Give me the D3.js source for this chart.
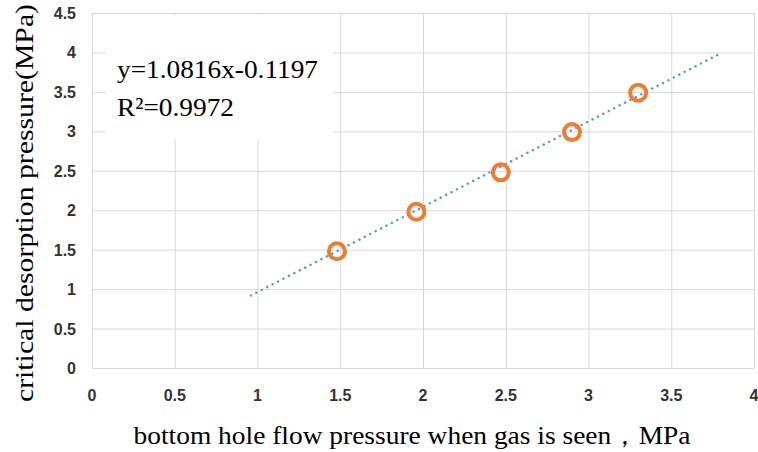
<!DOCTYPE html>
<html><head><meta charset="utf-8">
<script src="https://cdn.jsdelivr.net/npm/d3@7"></script>
<style>body{margin:0;background:#fff}</style>
</head><body>
<svg id="c" width="758" height="452"></svg>
<script>
const xValues = [1.48, 1.96, 2.47, 2.90, 3.30];
const yValues = [1.48, 1.98, 2.48, 2.99, 3.49];
const xTicks = [0, 0.5, 1, 1.5, 2, 2.5, 3, 3.5, 4];
const yTicks = [0, 0.5, 1, 1.5, 2, 2.5, 3, 3.5, 4, 4.5];
const slope = 1.0816, intercept = -0.1197;
const trendRange = [0.96, 3.79];
const eqText = "y=1.0816x-0.1197";
const r2Text = "R²=0.9972";
const xTitle = "bottom hole flow pressure when gas is seen，MPa";
const yTitle = "critical desorption pressure(MPa)";

const svg = d3.select("#c");
const x = d3.scaleLinear().domain([0, 4]).range([92, 754]);
const y = d3.scaleLinear().domain([0, 4.5]).range([368, 13]);

// grid
const grid = svg.append("g");
grid.selectAll(".vx").data(xTicks).join("line")
  .attr("x1", d => x(d) + 0.5).attr("x2", d => x(d) + 0.5)
  .attr("y1", y(4.5)).attr("y2", y(0))
  .attr("stroke", "#d9d9d9").attr("stroke-width", 1);
grid.selectAll(".hy").data(yTicks).join("line")
  .attr("x1", x(0)).attr("x2", x(4))
  .attr("y1", d => y(d) + 0.5).attr("y2", d => y(d) + 0.5)
  .attr("stroke", "#d9d9d9").attr("stroke-width", 1);

// white label box covering grid
svg.append("rect").attr("x", 106).attr("y", y(4.5) + 2)
  .attr("width", 227).attr("height", 124).attr("fill", "#fff");

// tick labels
const tickFont = "Liberation Sans, Arial, sans-serif";
svg.append("g").selectAll("text").data(xTicks).join("text")
  .attr("x", d => x(d)).attr("y", 401)
  .attr("text-anchor", "middle")
  .attr("font-family", tickFont)
  .attr("font-weight", "bold").attr("font-size", 16).attr("fill", "#333")
  .text(d => d);
svg.append("g").selectAll("text").data(yTicks).join("text")
  .attr("x", 76).attr("y", d => y(d) + 6)
  .attr("text-anchor", "end")
  .attr("font-family", tickFont)
  .attr("font-weight", "bold").attr("font-size", 16).attr("fill", "#333")
  .text(d => d);

// trend line
svg.append("line")
  .attr("x1", x(trendRange[0])).attr("y1", y(slope * trendRange[0] + intercept))
  .attr("x2", x(trendRange[1])).attr("y2", y(slope * trendRange[1] + intercept))
  .attr("stroke", "#5B9BD5").attr("stroke-width", 2.5)
  .attr("stroke-dasharray", "0.1 6").attr("stroke-linecap", "round");

// points
svg.append("g").selectAll("circle").data(xValues).join("circle")
  .attr("cx", (d) => x(d)).attr("cy", (d, i) => y(yValues[i]))
  .attr("r", 8).attr("fill", "none")
  .attr("stroke", "#ED7D31").attr("stroke-width", 4);

// equation text
const serif = "Liberation Serif, Times New Roman, serif";
svg.append("text").attr("x", 117).attr("y", 78)
  .attr("font-family", serif)
  .attr("font-size", 26).attr("fill", "#000")
  .attr("textLength", 201).attr("lengthAdjust", "spacingAndGlyphs")
  .text(eqText);
svg.append("text").attr("x", 117).attr("y", 116)
  .attr("font-family", serif)
  .attr("font-size", 26).attr("fill", "#000")
  .attr("textLength", 117).attr("lengthAdjust", "spacingAndGlyphs")
  .text(r2Text);

// axis titles
svg.append("text").attr("x", 412).attr("y", 444)
  .attr("text-anchor", "middle")
  .attr("font-family", serif)
  .attr("font-size", 25).attr("fill", "#000")
  .attr("textLength", 557).attr("lengthAdjust", "spacingAndGlyphs")
  .text(xTitle);
svg.append("text")
  .attr("transform", "translate(33,203) rotate(-90)")
  .attr("text-anchor", "middle")
  .attr("font-family", serif)
  .attr("font-size", 26).attr("fill", "#000")
  .attr("textLength", 398).attr("lengthAdjust", "spacingAndGlyphs")
  .text(yTitle);
</script>
</body></html>
